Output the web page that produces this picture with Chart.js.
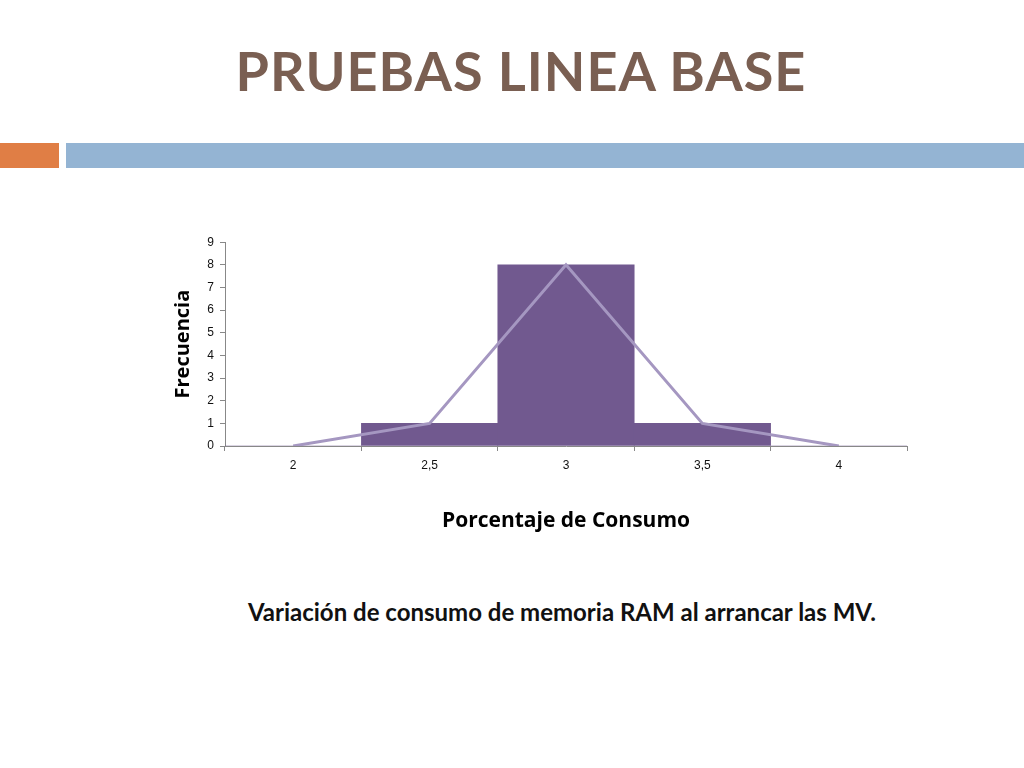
<!DOCTYPE html>
<html lang="es">
<head>
  <meta charset="UTF-8" />
  <title>Pruebas Linea Base</title>
  <script src="https://cdn.jsdelivr.net/npm/chart.js"></script>
  <style>
    body {
      margin: 0;
      width: 1024px;
      height: 768px;
      background: #fff;
      position: relative;
      overflow: hidden;
      font-family: Lato, sans-serif;
    }
    h1 {
      position: absolute;
      left: 9px;
      width: 1024px;
      top: 38px;
      margin: 0;
      text-align: center;
      font-size: 54px;
      letter-spacing: 1px;
      font-weight: bold;
      color: #7a5f52;
    }
    .bar-orange {
      position: absolute;
      left: 0; top: 143px;
      width: 59px; height: 25px;
      background: #e07e45;
    }
    .bar-blue {
      position: absolute;
      left: 66px; top: 143px;
      width: 958px; height: 25px;
      background: #94b4d3;
    }
    #wrap {
      position: absolute;
      left: 160px;
      top: 229px;
      width: 757px;
      height: 307px;
    }
    .caption {
      position: absolute;
      left: 0;
      width: 1124px;
      top: 597px;
      text-align: center;
      font-size: 24px;
      font-weight: bold;
      color: #111;
    }
  </style>
</head>
<body>
  <h1>PRUEBAS LINEA BASE</h1>
  <div class="bar-orange"></div>
  <div class="bar-blue"></div>

  <div id="wrap">
    <canvas id="histo"></canvas>
  </div>

  <div class="caption">Variación de consumo de memoria RAM al arrancar las MV.</div>

  <script>
    // bins (Porcentaje de Consumo) and frequencies
    const binLabels = ['2', '2,5', '3', '3,5', '4'];
    const frequencies = [0, 1, 8, 1, 0];
    const polygon = [0, 1, 8, 1, 0];
    const yTicks = [0, 1, 2, 3, 4, 5, 6, 7, 8, 9];

    new Chart(document.getElementById('histo'), {
      data: {
        labels: binLabels,
        datasets: [
          {
            type: 'line',
            data: polygon,
            borderColor: '#a597c1',
            borderWidth: 3,
            pointRadius: 0,
            tension: 0,
            order: 0
          },
          {
            type: 'bar',
            data: frequencies,
            backgroundColor: '#71598f',
            barPercentage: 1,
            categoryPercentage: 1,
            order: 1
          }
        ]
      },
      options: {
        responsive: true,
        maintainAspectRatio: false,
        animation: false,
        layout: { padding: { top: 0, right: 10, left: 0, bottom: 0 } },
        plugins: {
          legend: { display: false },
          tooltip: { enabled: false }
        },
        scales: {
          x: {
            offset: true,
            grid: { offset: true, drawOnChartArea: false, tickLength: 5, color: '#888' },
            border: { color: '#888' },
            ticks: { color: '#111', font: { family: 'Liberation Sans, sans-serif', size: 12 }, padding: 7 },
            title: {
              display: true,
              text: 'Porcentaje de Consumo',
              color: '#000',
              font: { family: 'Open Sans, sans-serif', size: 21, weight: 'bold' },
              padding: { top: 0, bottom: 2 }
            },
            afterFit: s => { s.height = 90; }
          },
          y: {
            min: 0,
            max: 9,
            afterBuildTicks: s => { s.ticks = yTicks.map(v => ({ value: v })); },
            grid: { drawOnChartArea: false, tickLength: 5, color: '#888' },
            border: { color: '#888' },
            ticks: { color: '#111', font: { family: 'Liberation Sans, sans-serif', size: 12 }, padding: 6 },
            title: {
              display: true,
              text: 'Frecuencia',
              color: '#000',
              font: { family: 'Open Sans, sans-serif', size: 20, weight: 'bold' },
              padding: { top: 11, bottom: 0 }
            },
            afterFit: s => { s.width = 65; }
          }
        }
      }
    });
  </script>
</body>
</html>
